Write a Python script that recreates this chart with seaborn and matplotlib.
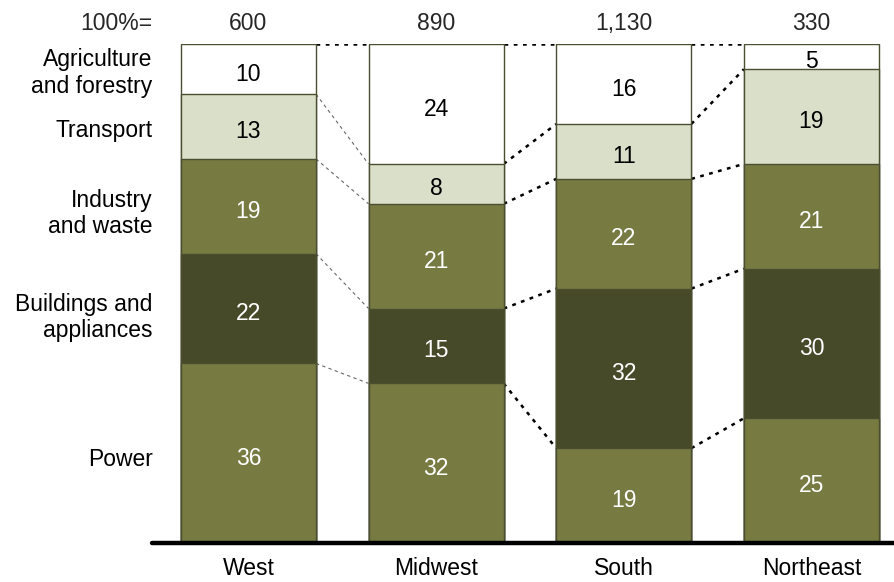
import matplotlib
matplotlib.use("Agg")
import matplotlib.pyplot as plt
import seaborn as sns
import numpy as np
import pandas as pd

regions = ["West", "Midwest", "South", "Northeast"]
totals = ["600", "890", "1,130", "330"]
sectors = ["Power", "Buildings and\nappliances", "Industry\nand waste", "Transport", "Agriculture\nand forestry"]
power = [36, 32, 19, 25]
buildings = [22, 15, 32, 30]
industry = [19, 21, 22, 21]
transport = [13, 8, 11, 19]
agriculture = [10, 24, 16, 5]

layers = [power, buildings, industry, transport, agriculture]
fills = ["#777b42", "#474a28", "#777b42", "#dadfca", "#ffffff"]
text_colors = ["white", "white", "white", "black", "black"]

sns.set_theme(style="white")
plt.rcParams["font.family"] = ["Liberation Sans", "DejaVu Sans"]

FS = 16.5

fig = plt.figure(figsize=(8.94, 5.82), dpi=100)
ax = fig.add_axes([0.170, 0.067, 0.830, 0.857])

vals = np.array(layers, dtype=float)
cum = np.cumsum(vals, axis=0)
bar_w = 0.72

# draw stacked bars from the top layer down so each lower layer covers the one above
for k in range(len(layers) - 1, -1, -1):
    df = pd.DataFrame({"region": regions, "top": cum[k]})
    sns.barplot(data=df, x="region", y="top", color=fills[k], saturation=1,
                width=bar_w, edgecolor="#4b4e30", linewidth=1.0, ax=ax, zorder=2)

# segment value labels
for k, layer in enumerate(layers):
    for i, v in enumerate(layer):
        ax.text(i, cum[k][i] - v / 2 - 0.5, str(v), ha="center", va="center_baseline",
                fontsize=FS, color=text_colors[k], zorder=4)

# dotted connectors between neighbouring bars
for i in range(len(regions) - 1):
    x0, x1 = i + bar_w / 2, i + 1 - bar_w / 2
    for k in range(len(layers)):
        y0, y1 = cum[k][i], cum[k][i + 1]
        if k == len(layers) - 1 or i > 0:
            ax.plot([x0, x1], [y0, y1], color="black", linestyle=(0, (1.5, 2.2)),
                    linewidth=1.8, zorder=1)
        else:
            ax.plot([x0, x1], [y0, y1], color="#666666", linestyle=(0, (3, 3)),
                    linewidth=0.8, zorder=1)

# sector names to the left, aligned with the first bar's segments
label_offsets = [-1.2, -1.8, -1.4, -0.8, -0.8]
for k, name in enumerate(sectors):
    y = cum[k][0] - vals[k][0] / 2 + label_offsets[k]
    ax.text(-0.51, y, name, ha="right", va="center", fontsize=FS,
            color="black", linespacing=1.2, clip_on=False)

# totals row
ax.text(-0.51, 104.6, "100%=", ha="right", va="center_baseline", fontsize=FS, clip_on=False)
for i, t in enumerate(totals):
    ax.text(i, 104.6, t, ha="center", va="center_baseline", fontsize=FS, clip_on=False)

ax.set_xlim(-0.514, 3.44)
ax.set_ylim(0, 100)
ax.axhline(0, color="black", linewidth=3.2, zorder=5, clip_on=False)
sns.despine(ax=ax, left=True, bottom=True)
ax.set_yticks([])
ax.set_xlabel("")
ax.set_ylabel("")
ax.tick_params(axis="x", length=0, labelsize=FS, pad=10)
for lbl in ax.get_xticklabels():
    lbl.set_color("black")

fig.savefig("out.png", dpi=100)
